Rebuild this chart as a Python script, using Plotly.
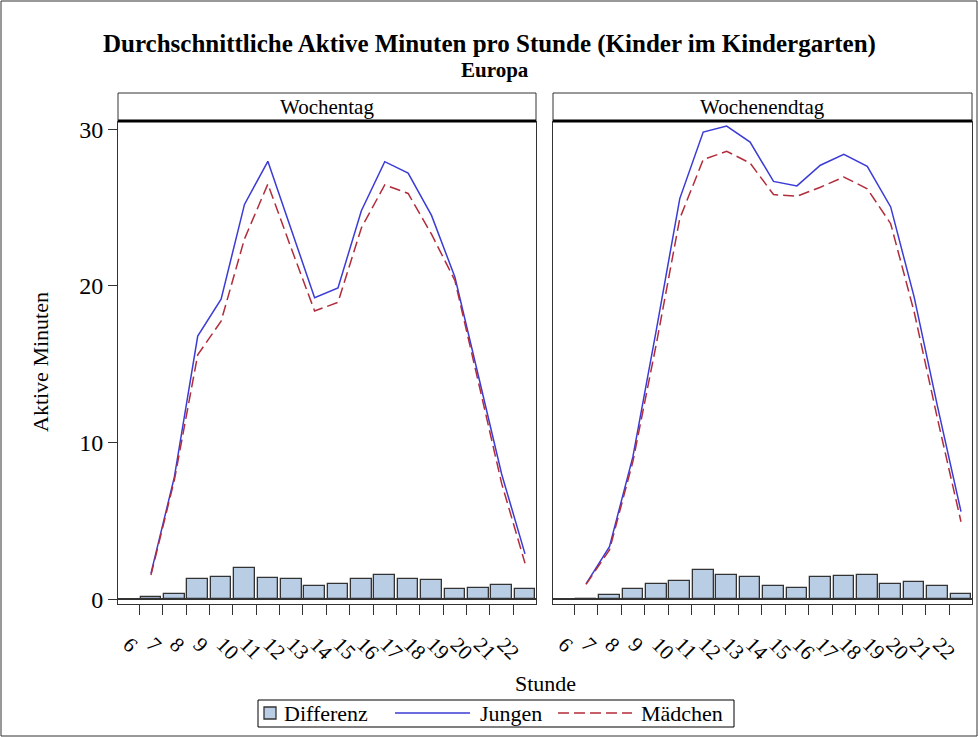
import plotly.graph_objects as go

# ---------------- data ----------------
hours = list(range(6, 23))
tick_labels = [str(h) for h in hours]

jungen_wochentag = [1.65, 7.8, 16.8, 19.15, 25.2, 27.95, 23.6, 19.25, 19.87, 24.8,
                    27.93, 27.2, 24.5, 20.57, 14.3, 8.0, 2.9]
maedchen_wochentag = [1.55, 7.6, 15.6, 17.75, 23.0, 26.5, 22.4, 18.4, 18.95, 23.7,
                      26.45, 25.9, 23.3, 20.35, 13.9, 7.4, 2.3]
differenz_wochentag = [0.15, 0.32, 1.28, 1.43, 1.98, 1.38, 1.32, 0.85, 0.96, 1.28,
                       1.55, 1.30, 1.23, 0.66, 0.74, 0.91, 0.66]

jungen_wochenende = [0.98, 3.36, 9.1, 17.2, 25.57, 29.82, 30.2, 29.18, 26.67, 26.38,
                     27.7, 28.4, 27.63, 25.04, 19.3, 12.3, 5.6]
maedchen_wochenende = [0.95, 3.15, 8.8, 16.3, 24.3, 28.06, 28.59, 27.84, 25.83, 25.72,
                       26.3, 26.95, 26.2, 23.97, 18.35, 11.5, 4.95]
differenz_wochenende = [-0.05, 0.26, 0.64, 1.0, 1.19, 1.85, 1.57, 1.40, 0.85, 0.70,
                        1.40, 1.47, 1.53, 1.0, 1.09, 0.87, 0.32]

panel_titles = ["Wochentag", "Wochenendtag"]
legend_names = ["Differenz", "Jungen", "Mädchen"]
y_ticks = [0, 10, 20, 30]

# ---------------- figure ----------------
W, H = 978, 737
FONT = "Liberation Serif, Times New Roman, serif"
BAR_FILL = "#b9cde5"
EDGE = "#333333"
BLUE = "#3b3bd6"
RED = "#b22d3b"
DASH = "11px,5px"


def fx(p):
    return p / W


def fy(p):
    return 1 - p / H


centers = [h + 0.5 for h in hours]  # each hour occupies the interval [h, h+1]

fig = go.Figure()
series = [
    ("x", "y", differenz_wochentag, jungen_wochentag, maedchen_wochentag),
    ("x2", "y2", differenz_wochenende, jungen_wochenende, maedchen_wochenende),
]
for xa, ya, diff, jung, maed in series:
    fig.add_trace(go.Bar(x=centers, y=diff, width=0.88, name=legend_names[0],
                         marker=dict(color=BAR_FILL, line=dict(color=EDGE, width=1.3)),
                         xaxis=xa, yaxis=ya, showlegend=False))
    fig.add_trace(go.Scatter(x=centers, y=jung, mode="lines", name=legend_names[1],
                             line=dict(color=BLUE, width=1.5),
                             xaxis=xa, yaxis=ya, showlegend=False))
    fig.add_trace(go.Scatter(x=centers, y=maed, mode="lines", name=legend_names[2],
                             line=dict(color=RED, width=1.5, dash=DASH),
                             xaxis=xa, yaxis=ya, showlegend=False))

x_common = dict(range=[5.09, 22.97], tickmode="array", tickvals=hours, ticktext=tick_labels,
                tickangle=45, ticks="outside", ticklen=10, tickcolor=EDGE,
                ticklabelshift=-10, ticklabelstandoff=9, automargin=False,
                tickfont=dict(family=FONT, size=21, color="black"),
                showline=True, mirror=True, linecolor=EDGE, linewidth=1,
                showgrid=False, zeroline=False)
y_common = dict(range=[-0.3, 30.46], showline=True, mirror=True, linecolor=EDGE, linewidth=1,
                showgrid=False, zeroline=True, zerolinecolor=EDGE, zerolinewidth=1.5,
                automargin=False, domain=[fy(604), fy(122)])

panel_x = [(118, 536), (553, 972)]

fig.update_layout(
    template="none",
    width=W, height=H,
    margin=dict(l=0, r=0, t=0, b=0, pad=0, autoexpand=False),
    paper_bgcolor="white", plot_bgcolor="white",
    font=dict(family=FONT, color="black"),
    bargap=0,
    showlegend=False,
    xaxis=dict(domain=[fx(panel_x[0][0]), fx(panel_x[0][1])], anchor="y", **x_common),
    xaxis2=dict(domain=[fx(panel_x[1][0]), fx(panel_x[1][1])], anchor="y2", **x_common),
    yaxis=dict(anchor="x", tickmode="array", tickvals=y_ticks, ticks="outside", ticklen=9,
               tickcolor=EDGE, tickfont=dict(family=FONT, size=24, color="black"),
               **y_common),
    yaxis2=dict(anchor="x2", showticklabels=False, ticks="", **y_common),
)

shapes = []
annotations = []
for (x0, x1), title in zip(panel_x, panel_titles):
    shapes.append(dict(type="rect", xref="paper", yref="paper",
                       x0=fx(x0), x1=fx(x1), y0=fy(121), y1=fy(93),
                       line=dict(color=EDGE, width=1), fillcolor="white"))
    shapes.append(dict(type="line", xref="paper", yref="paper",
                       x0=fx(x0), x1=fx(x1), y0=fy(121), y1=fy(121),
                       line=dict(color="black", width=3)))
    annotations.append(dict(text=title, xref="paper", yref="paper",
                            x=fx((x0 + x1) / 2), y=fy(107), xanchor="center", yanchor="middle",
                            showarrow=False, font=dict(family=FONT, size=21, color="black")))

# outer frame
shapes.append(dict(type="rect", xref="paper", yref="paper",
                   x0=fx(1), x1=fx(977), y0=fy(736), y1=fy(1),
                   line=dict(color=EDGE, width=1)))

# legend box (drawn by hand to reproduce the SAS legend layout)
LEG_Y = 713
shapes += [
    dict(type="rect", xref="paper", yref="paper", x0=fx(258), x1=fx(734),
         y0=fy(727), y1=fy(700), line=dict(color="black", width=1), fillcolor="white"),
    dict(type="rect", xref="paper", yref="paper", x0=fx(264), x1=fx(276),
         y0=fy(719), y1=fy(707), line=dict(color=EDGE, width=1.3), fillcolor=BAR_FILL),
    dict(type="line", xref="paper", yref="paper", x0=fx(395), x1=fx(470),
         y0=fy(LEG_Y), y1=fy(LEG_Y), line=dict(color=BLUE, width=1.5)),
    dict(type="line", xref="paper", yref="paper", x0=fx(558), x1=fx(632),
         y0=fy(LEG_Y), y1=fy(LEG_Y), line=dict(color=RED, width=1.5, dash=DASH)),
]
for name, xl in zip(legend_names, [282, 478, 639]):
    annotations.append(dict(text=name, xref="paper", yref="paper", x=fx(xl), y=fy(LEG_Y),
                            xanchor="left", yanchor="middle", showarrow=False,
                            font=dict(family=FONT, size=22, color="black")))

annotations += [
    dict(text="<b>Durchschnittliche Aktive Minuten pro Stunde (Kinder im Kindergarten)</b>",
         xref="paper", yref="paper", x=fx(489), y=fy(44), xanchor="center", yanchor="middle",
         showarrow=False, font=dict(family=FONT, size=25, color="black")),
    dict(text="<b>Europa</b>", xref="paper", yref="paper", x=fx(495), y=fy(70),
         xanchor="center", yanchor="middle", showarrow=False,
         font=dict(family=FONT, size=21, color="black")),
    dict(text="Stunde", xref="paper", yref="paper", x=fx(545), y=fy(683),
         xanchor="center", yanchor="middle", showarrow=False,
         font=dict(family=FONT, size=22, color="black")),
    dict(text="Aktive Minuten", xref="paper", yref="paper", x=fx(40), y=fy(362),
         xanchor="center", yanchor="middle", showarrow=False, textangle=-90,
         font=dict(family=FONT, size=22, color="black")),
]
fig.update_layout(shapes=shapes, annotations=annotations)

fig.write_html("out.html", config={"displayModeBar": False},
               post_script="document.body.style.margin='0';document.body.style.padding='0';")
